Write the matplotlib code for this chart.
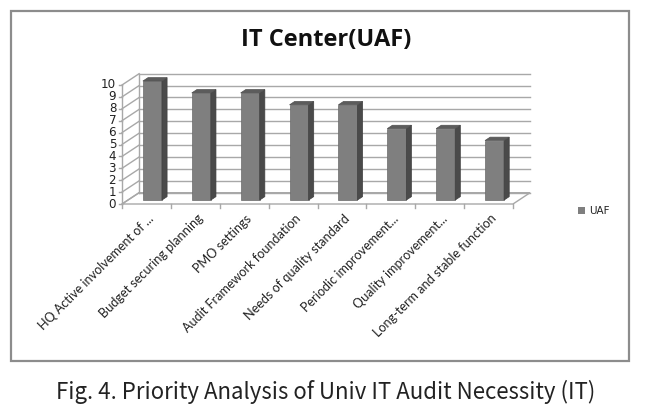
import matplotlib
matplotlib.use('Agg')
import matplotlib.pyplot as plt
from matplotlib.patches import Polygon, Rectangle

plt.rcParams['font.family'] = ['Lato', 'DejaVu Sans']

# data
categories = ['HQ Active involvement of ...', 'Budget securing planning',
              'PMO settings', 'Audit Framework foundation',
              'Needs of quality standard', 'Periodic improvement...',
              'Quality improvement...', 'Long-term and stable function']
uaf = [10, 9, 9, 8, 8, 6, 6, 5]
yticks = list(range(0, 11))

W, H = 649, 416
fig = plt.figure(figsize=(W / 100, H / 100), dpi=100)

# outer chart border
fig.patches.append(Rectangle((10.5 / W, 1 - 361 / H), 618 / W, 350 / H,
                             transform=fig.transFigure, fill=False,
                             edgecolor='#8c8c8c', linewidth=1.6))

# axes = front plane of the 3d box
ax = fig.add_axes([122 / W, 1 - 204 / H, 391 / W, 119 / H])
n = len(categories)
ax.set_xlim(-0.5, n - 0.5)
ax.set_ylim(0, 10)
ax.axis('off')

dx, dy = 0.35, 0.95      # depth offset in data units
f0, f1 = 0.35, 0.65      # bar depth position
grid_c = '#a8a8a8'
bw = 0.39

# back wall + left wall gridlines
for v in yticks:
    ax.plot([-0.5 + dx, n - 0.5 + dx], [v + dy, v + dy], color=grid_c, lw=1, clip_on=False)
    ax.plot([-0.5, -0.5 + dx], [v, v + dy], color=grid_c, lw=1, clip_on=False)
    ax.plot([-0.5 - 0.06, -0.5], [v, v], color=grid_c, lw=1, clip_on=False)
    ax.text(-0.5 - 0.12, v, str(v), ha='right', va='center', fontsize=8.6,
            family='DejaVu Sans', color='#222222')
ax.plot([-0.5, -0.5], [0, 10], color=grid_c, lw=1, clip_on=False)
ax.plot([-0.5 + dx, -0.5 + dx], [dy, 10 + dy], color=grid_c, lw=1, clip_on=False)

# floor
ax.add_patch(Polygon([(-0.5, 0), (n - 0.5, 0), (n - 0.5 + dx, dy), (-0.5 + dx, dy)],
                     closed=True, facecolor='white', edgecolor=grid_c, lw=1, clip_on=False))
for i in range(n + 1):
    ax.plot([i - 0.5, i - 0.5], [0, -0.35], color=grid_c, lw=1, clip_on=False)

# bars
xs = list(range(n))
bars = ax.bar([x + f0 * dx for x in xs], uaf, width=bw, bottom=f0 * dy,
              color='#7f7f7f', edgecolor='#6a6a6a', linewidth=0.5, clip_on=False, zorder=3)
for x, v in zip(xs, uaf):
    xl = x - bw / 2
    xr = x + bw / 2
    side = [(xr + f0 * dx, f0 * dy), (xr + f1 * dx, f1 * dy),
            (xr + f1 * dx, v + f1 * dy), (xr + f0 * dx, v + f0 * dy)]
    top = [(xl + f0 * dx, v + f0 * dy), (xr + f0 * dx, v + f0 * dy),
           (xr + f1 * dx, v + f1 * dy), (xl + f1 * dx, v + f1 * dy)]
    ax.add_patch(Polygon(side, closed=True, facecolor='#4a4a4a', edgecolor='#404040',
                         lw=0.5, clip_on=False, zorder=3))
    ax.add_patch(Polygon(top, closed=True, facecolor='#5c5c5c', edgecolor='#505050',
                         lw=0.5, clip_on=False, zorder=3))

# category labels
for x, lab in zip(xs, categories):
    ax.text(x + 0.03, -0.7, lab, rotation=45, ha='right', va='top',
            rotation_mode='anchor', fontsize=9.1, color='#222222')

# title
fig.text(326 / W, 1 - 40 / H, 'IT Center(UAF)', ha='center', va='center',
         fontsize=17, fontweight='bold', family='Open Sans', color='#111111')

# legend
fig.patches.append(Rectangle((578 / W, 1 - 214 / H), 7 / W, 7 / H,
                             transform=fig.transFigure, facecolor='#7f7f7f',
                             edgecolor='none'))
fig.text(589 / W, 1 - 210.5 / H, 'UAF', ha='left', va='center', fontsize=7.5,
         family='DejaVu Sans', color='#222222')

# caption
fig.text(326 / W, 1 - 392 / H, 'Fig. 4. Priority Analysis of Univ IT Audit Necessity (IT)',
         ha='center', va='center', fontsize=16, family='Noto Sans CJK KR',
         color='#222222')

fig.savefig('out.png', dpi=100)
